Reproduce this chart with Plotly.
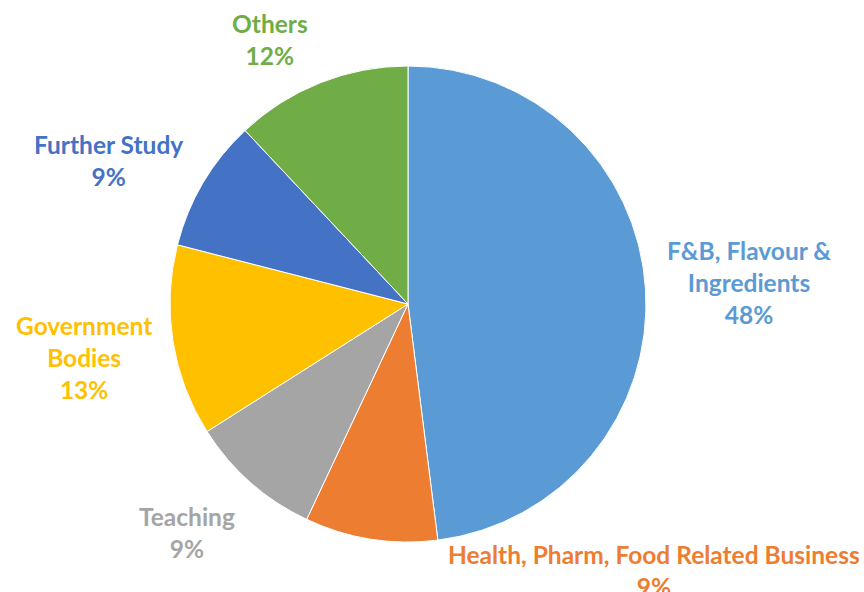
import plotly.graph_objects as go

categories = ["F&B, Flavour &<br>Ingredients", "Health, Pharm, Food Related Business",
              "Teaching", "Government<br>Bodies", "Further Study", "Others"]
values = [48, 9, 9, 13, 9, 12]
colors = ["#5B9BD5", "#ED7D31", "#A5A5A5", "#FFC000", "#4472C4", "#70AD47"]
text_colors = ["#5B9BD5", "#ED7D31", "#A5A5A5", "#FFC000", "#4472C4", "#70AD47"]

W, H = 864, 592
cx, cy, r = 408, 304, 238

# label block centres (pixels) - layout only
label_pos = [(749, 282), (654, 570), (187, 532), (84, 357), (108, 160), (270, 40)]

fig = go.Figure(go.Pie(
    labels=categories,
    values=values,
    sort=False,
    direction="clockwise",
    rotation=0,
    marker=dict(colors=colors, line=dict(color="white", width=1)),
    textinfo="none",
    hoverinfo="label+percent",
    showlegend=False,
    domain=dict(x=[(cx - r) / W, (cx + r) / W], y=[(H - cy - r) / H, (H - cy + r) / H]),
))

total = sum(values)
for lab, v, col, (px, py) in zip(categories, values, text_colors, label_pos):
    fig.add_annotation(
        x=px / W, y=1 - py / H, xref="paper", yref="paper",
        text=f"<b>{lab}<br>{round(100 * v / total)}%</b>",
        showarrow=False, xanchor="center", yanchor="middle", align="center",
        font=dict(family="Lato, 'Open Sans', sans-serif", size=24.5, color=col),
    )

fig.update_layout(
    width=W, height=H,
    margin=dict(l=0, r=0, t=0, b=0),
    paper_bgcolor="white", plot_bgcolor="white",
)
fig.write_html("out.html", config={"displayModeBar": False},
               post_script="document.body.style.margin='0';")
